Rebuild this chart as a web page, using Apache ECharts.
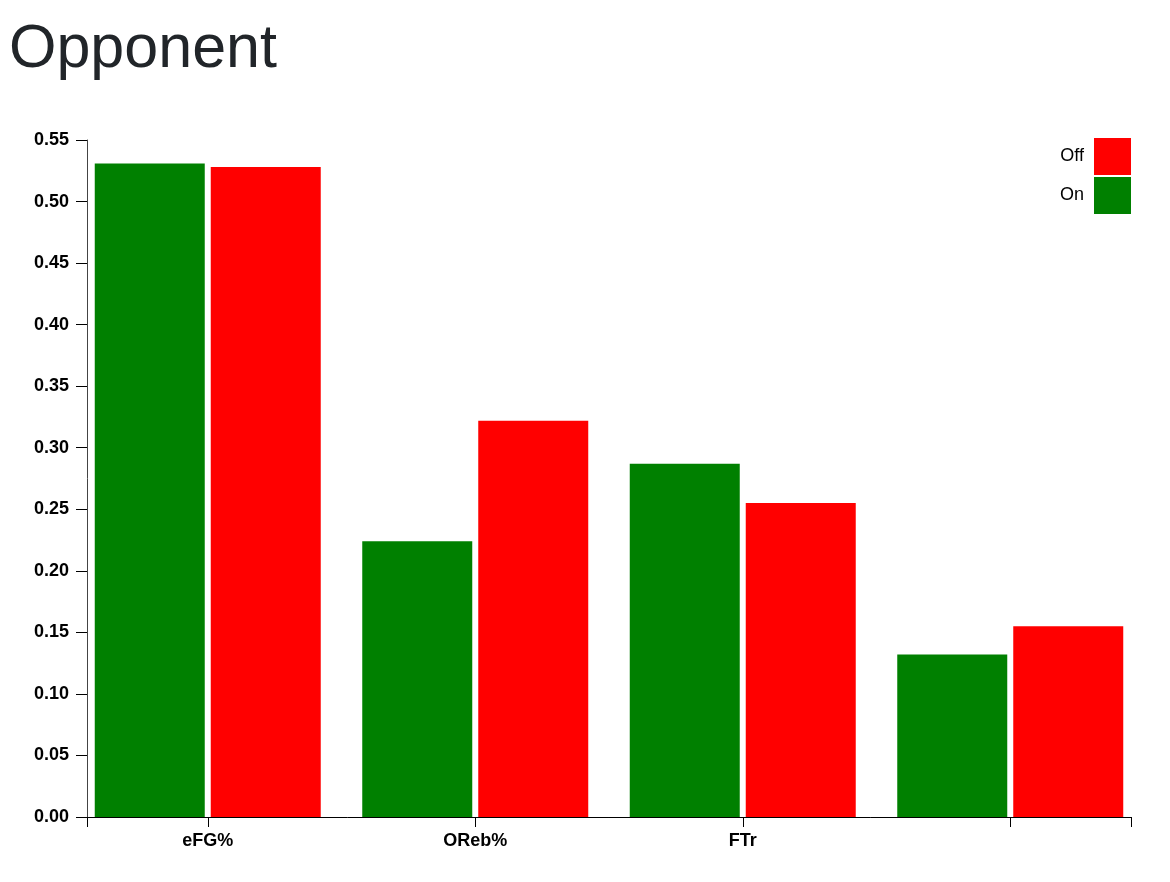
<!DOCTYPE html>
<html>
<head>
<meta charset="utf-8">
<script src="https://cdn.jsdelivr.net/npm/echarts@6/dist/echarts.min.js"></script>
<style>
html,body{margin:0;padding:0;background:#fff;}
#chart{width:1170px;height:882px;}
</style>
</head>
<body>
<div id="chart"></div>
<script>
var titleText = 'Opponent';
var categories = ['eFG%', 'OReb%', 'FTr', ''];
var onValues = [0.531, 0.224, 0.287, 0.132];
var offValues = [0.528, 0.322, 0.255, 0.155];
var yTicks = [0, 0.05, 0.10, 0.15, 0.20, 0.25, 0.30, 0.35, 0.40, 0.45, 0.50, 0.55];

var FONT = '"Liberation Sans", Arial, Helvetica, sans-serif';
var chart = echarts.init(document.getElementById('chart'));
chart.setOption({
  animation: false,
  backgroundColor: '#ffffff',
  title: {
    text: titleText,
    left: 4,
    top: 15,
    textStyle: { fontFamily: FONT, fontSize: 61, fontWeight: 'normal', color: '#212529' }
  },
  legend: {
    orient: 'vertical',
    right: 34,
    top: 133,
    align: 'right',
    itemWidth: 37,
    itemHeight: 37,
    itemGap: 2,
    icon: 'rect',
    data: ['Off', 'On'],
    textStyle: { fontFamily: FONT, fontSize: 18, color: '#000', padding: [0, 5, 0, 0] }
  },
  grid: [
    { left: 74, right: 26, top: 140, bottom: 65 },
    { left: 87, right: 39, top: 140, bottom: 65 }
  ],
  xAxis: [
    {
      type: 'category', gridIndex: 0, data: categories,
      axisLine: { show: false },
      axisTick: { show: true, alignWithLabel: true, length: 10, lineStyle: { color: '#000' } },
      axisLabel: { margin: 15, fontFamily: FONT, fontSize: 18, fontWeight: 'bold', color: '#000' },
      splitLine: { show: false }
    },
    {
      type: 'value', gridIndex: 1, min: 0, max: 1, interval: 1,
      axisLine: { show: true, lineStyle: { color: '#000', width: 1 } },
      axisTick: { show: true, length: 10, lineStyle: { color: '#000' } },
      axisLabel: { show: false },
      splitLine: { show: false }
    }
  ],
  yAxis: [
    {
      type: 'value', gridIndex: 0, min: 0, max: 0.55,
      show: false, splitLine: { show: false }
    },
    {
      type: 'value', gridIndex: 1, min: yTicks[0], max: yTicks[yTicks.length - 1], interval: 0.05,
      axisLine: { show: true, lineStyle: { color: '#444', width: 1 } },
      axisTick: { show: true, length: 11, lineStyle: { color: '#000' } },
      axisLabel: {
        margin: 18, fontFamily: FONT, fontSize: 18, fontWeight: 'bold', color: '#000',
        formatter: function (v) { return v.toFixed(2); }
      },
      splitLine: { show: false }
    }
  ],
  series: [
    {
      name: 'On', type: 'bar', xAxisIndex: 0, yAxisIndex: 0,
      data: onValues, barWidth: 110, barGap: '5.45%',
      itemStyle: { color: '#008000' }
    },
    {
      name: 'Off', type: 'bar', xAxisIndex: 0, yAxisIndex: 0,
      data: offValues, barWidth: 110, barGap: '5.45%',
      itemStyle: { color: '#ff0000' }
    }
  ]
});
</script>
</body>
</html>
